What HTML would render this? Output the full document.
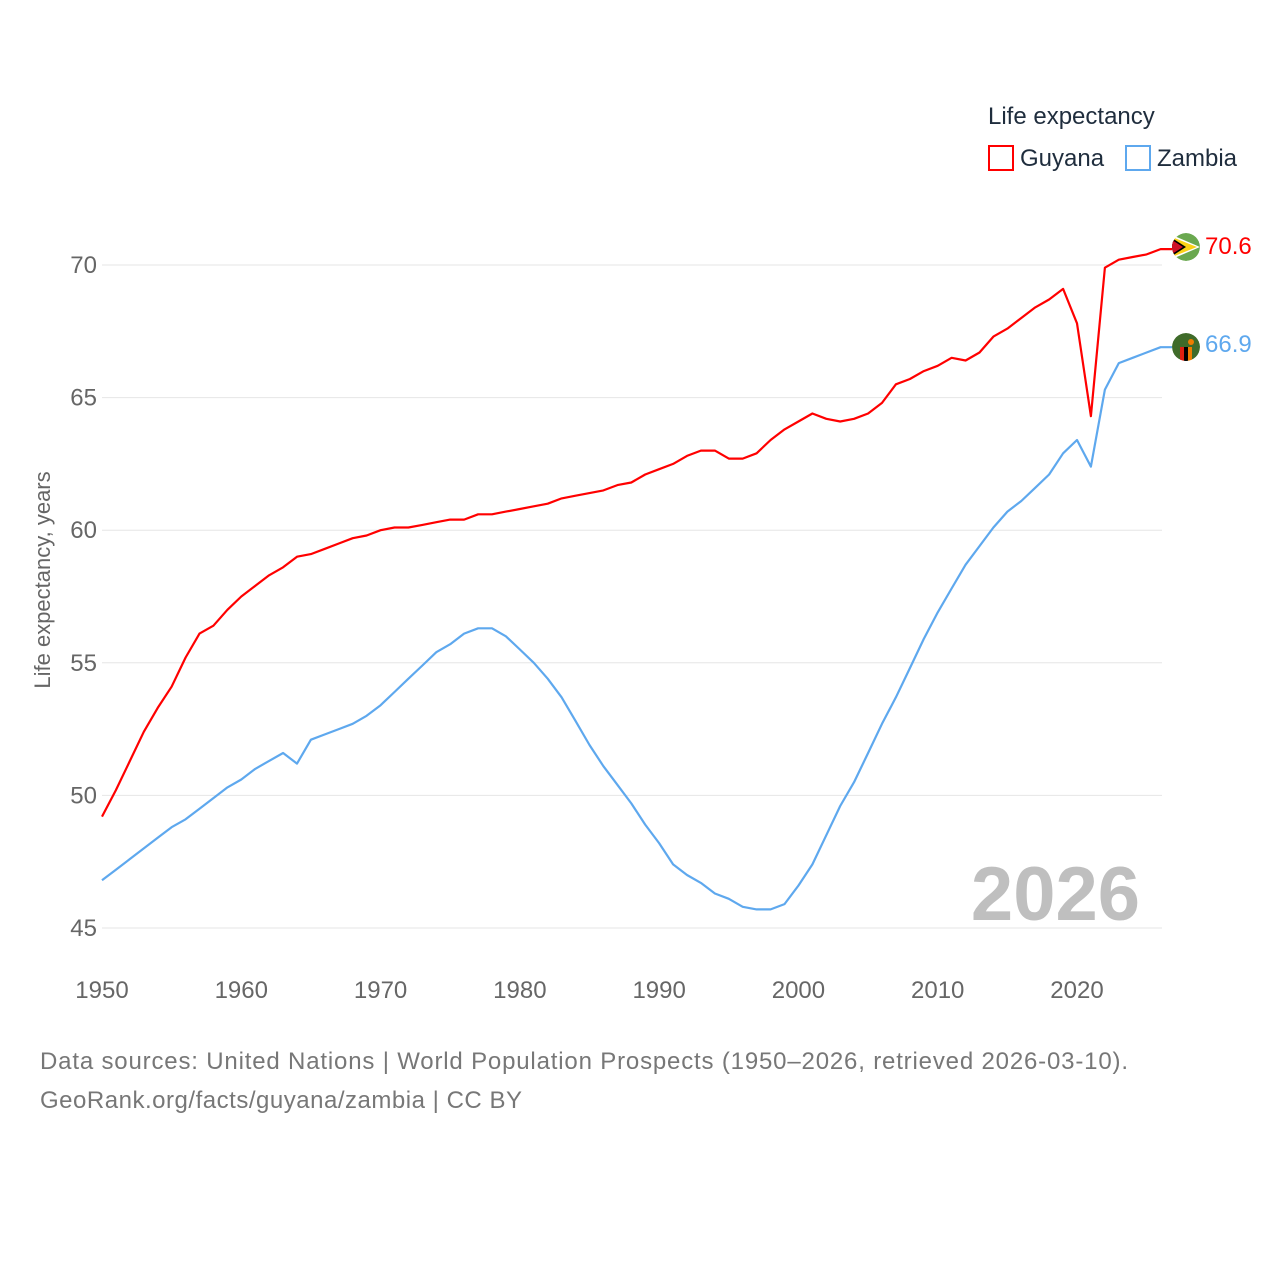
<!DOCTYPE html>
<html><head><meta charset="utf-8"><style>
body{margin:0;background:#fff;font-family:"Liberation Sans",sans-serif}
svg text{font-family:"Liberation Sans",sans-serif}
</style></head><body>
<svg id="c" width="1280" height="1280" viewBox="0 0 1280 1280">
<defs><clipPath id="fc"><circle r="14"/></clipPath></defs>
<text x="988" y="124" font-size="24" fill="#1f2d3d">Life expectancy</text>
<g><rect x="989" y="146" width="24" height="24" fill="none" stroke="#ff0000" stroke-width="2"/><text x="1020" y="166" font-size="24" fill="#1f2d3d">Guyana</text></g>
<g><rect x="1126" y="146" width="24" height="24" fill="none" stroke="#5ea8ee" stroke-width="2"/><text x="1157" y="166" font-size="24" fill="#1f2d3d">Zambia</text></g>
<text transform="translate(50,580) rotate(-90)" text-anchor="middle" font-size="22" fill="#666">Life expectancy, years</text>
<text x="1140" y="920" text-anchor="end" font-size="76" font-weight="bold" fill="#bfbfbf">2026</text>
<g id="grid"></g><g id="lines"></g>
<g transform="translate(1186,247)"><g clip-path="url(#fc)"><circle r="14" fill="#6aa84f"/><path d="M-14,-12 L14,0 L-14,12Z" fill="#fff"/><path d="M-14,-10 L11,0 L-14,10Z" fill="#fcd116"/><path d="M-14,-9 L0,0 L-14,9Z" fill="#000"/><path d="M-14,-7 L-3,0 L-14,7Z" fill="#ce1126"/></g></g>
<g transform="translate(1186,347)"><g clip-path="url(#fc)"><circle r="14" fill="#3f6b2a"/><rect x="-6" y="0" width="4" height="14" fill="#de2010"/><rect x="-2" y="0" width="4" height="14" fill="#000"/><rect x="2" y="0" width="4" height="14" fill="#ef7d00"/><circle cx="5" cy="-5" r="3" fill="#ef7d00"/></g></g>
<text x="1205" y="254" font-size="24" fill="#ff0000">70.6</text>
<text x="1205" y="352" font-size="24" fill="#5ea8ee">66.9</text>
<text x="40" y="1069" font-size="24" fill="#777" textLength="1088">Data sources: United Nations | World Population Prospects (1950–2026, retrieved 2026-03-10).</text>
<text x="40" y="1108" font-size="24" fill="#777" textLength="482">GeoRank.org/facts/guyana/zambia | CC BY</text>
</svg>
<script>
const years=[];for(let y=1950;y<=2026;y++)years.push(y);
const guyana=[49.2,50.2,51.3,52.4,53.3,54.1,55.2,56.1,56.4,57.0,57.5,57.9,58.3,58.6,59.0,59.1,59.3,59.5,59.7,59.8,60.0,60.1,60.1,60.2,60.3,60.4,60.4,60.6,60.6,60.7,60.8,60.9,61.0,61.2,61.3,61.4,61.5,61.7,61.8,62.1,62.3,62.5,62.8,63.0,63.0,62.7,62.7,62.9,63.4,63.8,64.1,64.4,64.2,64.1,64.2,64.4,64.8,65.5,65.7,66.0,66.2,66.5,66.4,66.7,67.3,67.6,68.0,68.4,68.7,69.1,67.8,64.3,69.9,70.2,70.3,70.4,70.6];
const zambia=[46.8,47.2,47.6,48.0,48.4,48.8,49.1,49.5,49.9,50.3,50.6,51.0,51.3,51.6,51.2,52.1,52.3,52.5,52.7,53.0,53.4,53.9,54.4,54.9,55.4,55.7,56.1,56.3,56.3,56.0,55.5,55.0,54.4,53.7,52.8,51.9,51.1,50.4,49.7,48.9,48.2,47.4,47.0,46.7,46.3,46.1,45.8,45.7,45.7,45.9,46.6,47.4,48.5,49.6,50.5,51.6,52.7,53.7,54.8,55.9,56.9,57.8,58.7,59.4,60.1,60.7,61.1,61.6,62.1,62.9,63.4,62.4,65.3,66.3,66.5,66.7,66.9];
const yTicks=[45,50,55,60,65,70];
const xTicks=[1950,1960,1970,1980,1990,2000,2010,2020];
const NS="http://www.w3.org/2000/svg";
const X=y=>102+(y-1950)*975/70;
const Y=v=>928-(v-45)*663/25;
const grid=document.getElementById('grid'),lines=document.getElementById('lines');
function mk(tag,attrs,parent){const e=document.createElementNS(NS,tag);for(const k in attrs)e.setAttribute(k,attrs[k]);parent.appendChild(e);return e;}
yTicks.forEach(v=>{
  const l=mk('line',{x1:102,x2:1162,y1:Y(v),y2:Y(v),stroke:'#e6e6e6','stroke-width':1},grid);
  
  
  const t=mk('text',{x:97,y:Y(v)+8,'text-anchor':'end','font-size':24,fill:'#666'},grid);
  t.textContent=v;
  
  
});
xTicks.forEach(v=>{
  const t=mk('text',{x:X(v),y:998,'text-anchor':'middle','font-size':24,fill:'#666'},grid);
  t.textContent=v;
  
  
});
function line(data,color,name){
  const d=data.map((v,i)=>(i?'L':'M')+X(years[i]).toFixed(1)+','+Y(v).toFixed(1)).join('')+'H1172';
  const p=mk('path',{d:d,fill:'none',stroke:color,'stroke-width':2.2,'stroke-linejoin':'round'},lines);
  
  
}
line(zambia,'#5ea8ee','zambia-line');
line(guyana,'#ff0000','guyana-line');
</script>
</body></html>
